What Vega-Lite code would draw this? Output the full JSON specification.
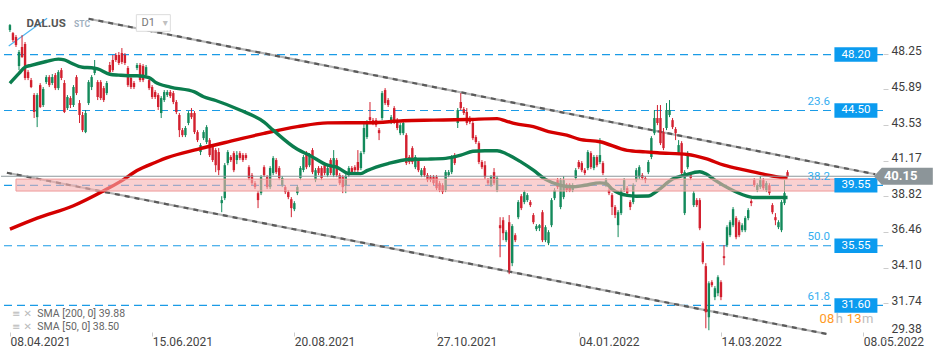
{
"$schema": "https://vega.github.io/schema/vega-lite/v6.json",
"width": 882, "height": 339, "padding": 0, "background": "white",
"config": {"view": {"stroke": null}, "font": "Roboto"},
"data": {"values": [{}]},
"datasets": {
"candles": [
{"i":0,"o":49.82,"h":50.22,"l":49.69,"c":50.15},{"i":1,"o":49.62,"h":49.69,"l":49.03,"c":49.16},{"i":2,"o":49.36,"h":49.49,"l":48.70,"c":48.83},{"i":3,"o":47.44,"h":48.50,"l":47.17,"c":48.37},{"i":4,"o":48.70,"h":49.49,"l":47.97,"c":48.04},{"i":5,"o":48.90,"h":49.03,"l":46.51,"c":46.65},{"i":6,"o":47.04,"h":47.17,"l":46.51,"c":46.65},{"i":7,"o":46.51,"h":46.65,"l":45.98,"c":46.05},{"i":8,"o":45.52,"h":45.65,"l":44.00,"c":44.40},{"i":9,"o":44.06,"h":45.65,"l":43.40,"c":45.52},
{"i":10,"o":46.18,"h":46.31,"l":44.66,"c":44.73},{"i":11,"o":44.86,"h":46.05,"l":44.73,"c":45.92},{"i":12,"o":46.38,"h":46.84,"l":46.25,"c":46.71},{"i":13,"o":46.71,"h":46.84,"l":46.05,"c":46.18},{"i":14,"o":46.32,"h":46.91,"l":46.18,"c":46.71},{"i":15,"o":46.84,"h":46.98,"l":45.85,"c":45.98},{"i":16,"o":45.98,"h":47.17,"l":45.85,"c":47.04},{"i":17,"o":47.17,"h":47.31,"l":46.51,"c":46.65},{"i":18,"o":46.32,"h":46.51,"l":44.33,"c":44.40},{"i":19,"o":44.66,"h":45.52,"l":44.53,"c":45.39},
{"i":20,"o":45.32,"h":45.45,"l":44.66,"c":44.86},{"i":21,"o":44.86,"h":46.18,"l":44.73,"c":46.05},{"i":22,"o":46.71,"h":46.84,"l":45.52,"c":45.65},{"i":23,"o":44.99,"h":45.19,"l":43.67,"c":44.20},{"i":24,"o":44.20,"h":44.40,"l":43.07,"c":43.20},{"i":25,"o":43.07,"h":44.53,"l":43.00,"c":44.33},{"i":26,"o":44.99,"h":46.51,"l":44.86,"c":46.38},{"i":27,"o":46.05,"h":46.84,"l":45.85,"c":46.71},{"i":28,"o":46.98,"h":47.84,"l":46.84,"c":47.31},{"i":29,"o":46.38,"h":46.51,"l":45.19,"c":45.39},
{"i":30,"o":46.38,"h":46.51,"l":45.19,"c":45.32},{"i":31,"o":45.98,"h":46.12,"l":45.06,"c":45.19},{"i":32,"o":45.65,"h":46.45,"l":45.52,"c":46.32},{"i":33,"o":47.51,"h":47.71,"l":46.91,"c":47.04},{"i":34,"o":47.84,"h":48.17,"l":47.04,"c":47.17},{"i":35,"o":48.17,"h":48.30,"l":47.71,"c":47.84},{"i":36,"o":48.17,"h":48.37,"l":47.51,"c":47.64},{"i":37,"o":48.30,"h":48.63,"l":47.57,"c":47.71},{"i":38,"o":48.17,"h":48.30,"l":47.51,"c":47.64},{"i":39,"o":47.31,"h":47.44,"l":46.05,"c":46.18},
{"i":40,"o":46.65,"h":46.78,"l":45.92,"c":46.05},{"i":41,"o":46.32,"h":46.45,"l":45.92,"c":46.05},{"i":42,"o":47.31,"h":47.64,"l":47.17,"c":47.51},{"i":43,"o":47.51,"h":47.64,"l":46.38,"c":46.51},{"i":44,"o":47.44,"h":47.57,"l":46.38,"c":46.51},{"i":45,"o":46.84,"h":47.51,"l":46.71,"c":47.37},{"i":46,"o":46.51,"h":46.65,"l":45.85,"c":45.98},{"i":47,"o":46.05,"h":46.18,"l":45.26,"c":45.39},{"i":48,"o":45.72,"h":45.85,"l":45.26,"c":45.39},{"i":49,"o":45.52,"h":45.65,"l":44.53,"c":44.73},
{"i":50,"o":44.33,"h":45.45,"l":44.00,"c":45.32},{"i":51,"o":45.19,"h":45.85,"l":45.06,"c":45.72},{"i":52,"o":45.52,"h":45.85,"l":45.39,"c":45.72},{"i":53,"o":45.72,"h":45.85,"l":45.32,"c":45.45},{"i":54,"o":45.65,"h":45.79,"l":44.92,"c":45.06},{"i":55,"o":45.06,"h":45.19,"l":44.26,"c":44.40},{"i":56,"o":44.20,"h":44.33,"l":42.74,"c":43.20},{"i":57,"o":43.20,"h":43.34,"l":42.74,"c":42.87},{"i":58,"o":42.87,"h":43.47,"l":42.74,"c":43.34},{"i":59,"o":43.67,"h":44.46,"l":43.53,"c":44.33},
{"i":60,"o":44.33,"h":44.66,"l":43.93,"c":44.06},{"i":61,"o":44.33,"h":44.46,"l":42.94,"c":43.07},{"i":62,"o":43.07,"h":43.20,"l":42.41,"c":42.54},{"i":63,"o":41.75,"h":42.34,"l":41.55,"c":42.21},{"i":64,"o":42.67,"h":43.20,"l":42.54,"c":43.07},{"i":65,"o":42.41,"h":43.53,"l":42.28,"c":43.40},{"i":66,"o":42.54,"h":42.67,"l":41.42,"c":41.55},{"i":67,"o":42.08,"h":42.21,"l":41.09,"c":41.22},{"i":68,"o":41.88,"h":42.01,"l":40.42,"c":40.88},{"i":69,"o":41.75,"h":42.01,"l":40.22,"c":40.55},
{"i":70,"o":38.37,"h":38.83,"l":37.77,"c":38.57},{"i":71,"o":38.70,"h":41.02,"l":38.57,"c":40.88},{"i":72,"o":41.02,"h":41.88,"l":40.88,"c":41.75},{"i":73,"o":41.42,"h":41.55,"l":41.09,"c":41.22},{"i":74,"o":41.68,"h":41.81,"l":40.42,"c":40.55},{"i":75,"o":41.22,"h":41.81,"l":40.95,"c":41.55},{"i":76,"o":41.68,"h":41.81,"l":41.22,"c":41.35},{"i":77,"o":41.55,"h":41.68,"l":41.09,"c":41.22},{"i":78,"o":41.55,"h":41.68,"l":41.22,"c":41.35},{"i":79,"o":40.75,"h":40.88,"l":39.89,"c":40.03},
{"i":80,"o":40.22,"h":40.36,"l":39.56,"c":39.69},{"i":81,"o":39.69,"h":39.83,"l":39.30,"c":39.43},{"i":82,"o":39.03,"h":39.17,"l":38.04,"c":38.57},{"i":83,"o":39.03,"h":40.22,"l":38.90,"c":40.09},{"i":84,"o":40.75,"h":40.88,"l":40.09,"c":40.22},{"i":85,"o":40.09,"h":40.22,"l":39.30,"c":39.43},{"i":86,"o":39.43,"h":40.82,"l":39.30,"c":40.69},{"i":87,"o":40.36,"h":41.48,"l":40.22,"c":41.35},{"i":88,"o":41.22,"h":41.35,"l":40.29,"c":40.42},{"i":89,"o":40.69,"h":40.82,"l":39.89,"c":40.03},
{"i":90,"o":39.56,"h":40.16,"l":39.43,"c":40.03},{"i":91,"o":39.43,"h":39.56,"l":38.97,"c":39.10},{"i":92,"o":39.10,"h":39.23,"l":38.63,"c":38.77},{"i":93,"o":38.63,"h":38.77,"l":37.44,"c":38.04},{"i":94,"o":37.97,"h":38.50,"l":37.84,"c":38.37},{"i":95,"o":39.03,"h":39.56,"l":38.90,"c":39.43},{"i":96,"o":40.03,"h":40.82,"l":39.89,"c":40.69},{"i":97,"o":40.56,"h":41.55,"l":40.42,"c":41.42},{"i":98,"o":41.68,"h":41.81,"l":40.62,"c":40.75},{"i":99,"o":40.88,"h":41.68,"l":40.75,"c":41.55},
{"i":100,"o":41.88,"h":42.01,"l":40.29,"c":40.42},{"i":101,"o":39.89,"h":40.69,"l":39.76,"c":40.55},{"i":102,"o":40.69,"h":40.82,"l":40.22,"c":40.36},{"i":103,"o":40.69,"h":40.82,"l":39.89,"c":40.03},{"i":104,"o":40.88,"h":41.02,"l":40.22,"c":40.36},{"i":105,"o":40.22,"h":40.82,"l":40.09,"c":40.69},{"i":106,"o":41.22,"h":41.35,"l":40.22,"c":40.36},{"i":107,"o":40.22,"h":41.88,"l":40.09,"c":41.35},{"i":108,"o":41.22,"h":41.35,"l":40.09,"c":40.22},{"i":109,"o":40.22,"h":40.36,"l":39.56,"c":39.69},
{"i":110,"o":40.09,"h":40.22,"l":39.03,"c":39.43},{"i":111,"o":39.56,"h":40.29,"l":39.03,"c":40.16},{"i":112,"o":40.22,"h":40.82,"l":40.09,"c":40.69},{"i":113,"o":40.69,"h":40.82,"l":40.29,"c":40.42},{"i":114,"o":40.75,"h":40.88,"l":40.42,"c":40.55},{"i":115,"o":41.09,"h":41.88,"l":40.42,"c":40.55},{"i":116,"o":40.69,"h":41.81,"l":40.55,"c":41.68},{"i":117,"o":41.75,"h":43.73,"l":41.61,"c":43.34},{"i":118,"o":42.74,"h":43.86,"l":42.61,"c":43.73},{"i":119,"o":44.06,"h":45.06,"l":43.73,"c":43.86},
{"i":120,"o":43.86,"h":44.00,"l":43.53,"c":43.67},{"i":121,"o":43.86,"h":44.00,"l":43.40,"c":43.53},{"i":122,"o":43.20,"h":43.34,"l":42.54,"c":43.00},{"i":123,"o":44.00,"h":45.79,"l":43.86,"c":45.65},{"i":124,"o":45.85,"h":45.98,"l":44.86,"c":44.99},{"i":125,"o":45.19,"h":45.32,"l":44.73,"c":44.86},{"i":126,"o":43.73,"h":44.20,"l":43.60,"c":44.06},{"i":127,"o":44.66,"h":44.79,"l":43.60,"c":43.73},{"i":128,"o":43.87,"h":44.00,"l":43.20,"c":43.34},{"i":129,"o":43.00,"h":43.67,"l":42.87,"c":43.53},
{"i":130,"o":43.00,"h":43.80,"l":42.87,"c":43.67},{"i":131,"o":42.87,"h":43.00,"l":40.89,"c":41.02},{"i":132,"o":41.42,"h":41.55,"l":40.95,"c":41.09},{"i":133,"o":42.01,"h":42.14,"l":40.95,"c":41.09},{"i":134,"o":40.75,"h":41.55,"l":40.62,"c":41.42},{"i":135,"o":41.22,"h":41.35,"l":40.42,"c":40.55},{"i":136,"o":40.22,"h":40.69,"l":40.09,"c":40.55},{"i":137,"o":40.69,"h":40.82,"l":40.09,"c":40.22},{"i":138,"o":40.22,"h":40.36,"l":39.76,"c":39.89},{"i":139,"o":40.09,"h":40.22,"l":39.76,"c":39.89},
{"i":140,"o":40.09,"h":40.22,"l":39.56,"c":39.69},{"i":141,"o":40.09,"h":40.22,"l":39.23,"c":39.36},{"i":142,"o":39.69,"h":39.83,"l":39.10,"c":39.23},{"i":143,"o":39.56,"h":39.69,"l":38.97,"c":39.10},{"i":144,"o":39.23,"h":40.56,"l":39.10,"c":40.42},{"i":145,"o":40.22,"h":40.56,"l":40.09,"c":40.42},{"i":146,"o":40.42,"h":41.55,"l":40.29,"c":41.42},{"i":147,"o":41.55,"h":41.68,"l":40.89,"c":41.02},{"i":148,"o":43.67,"h":44.66,"l":43.34,"c":44.53},{"i":149,"o":45.06,"h":45.65,"l":44.53,"c":44.66},
{"i":150,"o":44.59,"h":44.73,"l":44.20,"c":44.33},{"i":151,"o":44.40,"h":44.66,"l":43.53,"c":43.67},{"i":152,"o":43.99,"h":44.13,"l":43.60,"c":43.73},{"i":153,"o":43.67,"h":43.80,"l":42.54,"c":42.67},{"i":154,"o":42.74,"h":42.87,"l":42.28,"c":42.41},{"i":155,"o":42.34,"h":42.47,"l":40.95,"c":41.09},{"i":156,"o":41.09,"h":41.22,"l":40.62,"c":40.75},{"i":157,"o":40.88,"h":41.15,"l":39.96,"c":40.09},{"i":158,"o":39.89,"h":40.03,"l":39.56,"c":39.69},{"i":159,"o":39.56,"h":40.22,"l":39.43,"c":40.09},
{"i":160,"o":40.42,"h":40.69,"l":39.56,"c":39.69},{"i":161,"o":39.23,"h":40.16,"l":39.10,"c":40.03},{"i":162,"o":36.91,"h":37.44,"l":34.79,"c":36.71},{"i":163,"o":37.24,"h":37.44,"l":35.92,"c":36.38},{"i":164,"o":35.92,"h":36.58,"l":35.79,"c":36.45},{"i":165,"o":37.11,"h":37.58,"l":33.67,"c":33.93},{"i":166,"o":34.40,"h":36.98,"l":34.20,"c":36.85},{"i":167,"o":36.25,"h":36.38,"l":35.79,"c":35.92},{"i":168,"o":37.44,"h":38.57,"l":37.31,"c":38.44},{"i":169,"o":38.83,"h":38.97,"l":37.91,"c":38.04},
{"i":170,"o":38.44,"h":39.23,"l":38.30,"c":39.10},{"i":171,"o":38.57,"h":39.03,"l":38.44,"c":38.90},{"i":172,"o":38.44,"h":38.57,"l":38.11,"c":38.24},{"i":173,"o":37.58,"h":37.71,"l":36.98,"c":37.11},{"i":174,"o":36.65,"h":36.98,"l":36.52,"c":36.85},{"i":175,"o":36.72,"h":36.98,"l":36.52,"c":36.91},{"i":176,"o":37.77,"h":37.91,"l":35.79,"c":35.92},{"i":177,"o":35.92,"h":36.91,"l":35.79,"c":36.78},{"i":178,"o":35.72,"h":36.58,"l":35.59,"c":36.45},{"i":179,"o":36.91,"h":38.70,"l":36.78,"c":38.57},
{"i":180,"o":38.70,"h":39.36,"l":38.57,"c":39.23},{"i":181,"o":39.89,"h":40.03,"l":39.30,"c":39.43},{"i":182,"o":38.11,"h":40.03,"l":37.97,"c":39.89},{"i":183,"o":38.77,"h":40.16,"l":38.63,"c":39.89},{"i":184,"o":39.56,"h":39.69,"l":39.10,"c":39.23},{"i":185,"o":39.43,"h":39.69,"l":39.10,"c":39.17},{"i":186,"o":39.23,"h":39.69,"l":39.10,"c":39.56},{"i":187,"o":40.03,"h":40.69,"l":39.89,"c":40.55},{"i":188,"o":41.09,"h":41.22,"l":40.62,"c":40.75},{"i":189,"o":41.02,"h":41.15,"l":40.42,"c":40.55},
{"i":190,"o":40.55,"h":40.69,"l":40.22,"c":40.36},{"i":191,"o":40.69,"h":41.88,"l":40.55,"c":41.75},{"i":192,"o":41.68,"h":41.81,"l":40.62,"c":40.75},{"i":193,"o":40.69,"h":41.55,"l":40.55,"c":41.42},{"i":194,"o":41.42,"h":41.55,"l":40.75,"c":40.88},{"i":195,"o":41.09,"h":42.67,"l":40.95,"c":41.55},{"i":196,"o":41.02,"h":41.15,"l":40.22,"c":40.36},{"i":197,"o":39.56,"h":40.03,"l":39.43,"c":39.89},{"i":198,"o":39.23,"h":39.36,"l":38.90,"c":39.03},{"i":199,"o":38.90,"h":39.03,"l":37.58,"c":38.11},
{"i":200,"o":38.11,"h":38.24,"l":37.38,"c":37.58},{"i":201,"o":36.91,"h":37.91,"l":36.12,"c":37.77},{"i":202,"o":37.71,"h":39.36,"l":37.58,"c":39.23},{"i":203,"o":39.23,"h":40.03,"l":39.10,"c":39.89},{"i":204,"o":39.36,"h":39.50,"l":38.90,"c":39.03},{"i":205,"o":38.44,"h":38.57,"l":37.91,"c":38.11},{"i":206,"o":38.44,"h":39.69,"l":38.30,"c":39.56},{"i":207,"o":39.89,"h":40.69,"l":39.76,"c":40.55},{"i":208,"o":40.09,"h":40.88,"l":39.96,"c":40.75},{"i":209,"o":40.22,"h":40.36,"l":39.89,"c":40.03},
{"i":210,"o":40.03,"h":40.16,"l":39.69,"c":39.89},{"i":211,"o":40.42,"h":41.22,"l":40.29,"c":41.09},{"i":212,"o":41.42,"h":42.80,"l":41.28,"c":42.67},{"i":213,"o":43.00,"h":44.53,"l":42.87,"c":44.00},{"i":214,"o":44.00,"h":44.86,"l":43.53,"c":43.67},{"i":215,"o":44.00,"h":44.86,"l":42.21,"c":42.34},{"i":216,"o":43.07,"h":43.34,"l":41.88,"c":42.01},{"i":217,"o":43.34,"h":44.99,"l":43.20,"c":44.53},{"i":218,"o":44.20,"h":45.19,"l":44.06,"c":44.53},{"i":219,"o":43.86,"h":44.00,"l":43.27,"c":43.40},
{"i":220,"o":43.27,"h":43.40,"l":42.54,"c":43.00},{"i":221,"o":41.68,"h":42.54,"l":41.55,"c":42.21},{"i":222,"o":42.34,"h":42.47,"l":40.22,"c":40.36},{"i":223,"o":37.71,"h":40.55,"l":37.58,"c":40.42},{"i":224,"o":40.75,"h":41.81,"l":40.62,"c":41.68},{"i":225,"o":40.22,"h":40.36,"l":39.89,"c":40.03},{"i":226,"o":38.24,"h":39.17,"l":38.11,"c":39.03},{"i":227,"o":38.57,"h":38.70,"l":38.11,"c":38.24},{"i":228,"o":38.57,"h":38.70,"l":36.58,"c":36.71},{"i":229,"o":35.72,"h":35.85,"l":34.33,"c":34.46},
{"i":230,"o":34.20,"h":34.40,"l":30.09,"c":31.15},{"i":231,"o":30.82,"h":33.20,"l":29.96,"c":33.07},{"i":232,"o":33.14,"h":33.27,"l":32.81,"c":32.94},{"i":233,"o":32.15,"h":32.88,"l":31.95,"c":32.74},{"i":234,"o":32.41,"h":33.60,"l":32.21,"c":33.47},{"i":235,"o":33.14,"h":33.27,"l":31.95,"c":32.15},{"i":236,"o":34.86,"h":35.59,"l":34.26,"c":34.73},{"i":237,"o":35.59,"h":36.91,"l":35.46,"c":36.78},{"i":238,"o":36.25,"h":37.24,"l":36.12,"c":37.11},{"i":239,"o":36.91,"h":38.11,"l":36.78,"c":37.97},
{"i":240,"o":37.38,"h":37.51,"l":35.98,"c":36.12},{"i":241,"o":37.11,"h":37.24,"l":36.12,"c":36.25},{"i":242,"o":36.58,"h":37.04,"l":36.45,"c":36.91},{"i":243,"o":36.58,"h":37.51,"l":36.45,"c":37.38},{"i":244,"o":37.38,"h":38.04,"l":37.24,"c":37.91},{"i":245,"o":38.50,"h":38.63,"l":38.17,"c":38.37},{"i":246,"o":39.89,"h":40.03,"l":39.43,"c":39.56},{"i":247,"o":39.23,"h":39.69,"l":39.10,"c":39.56},{"i":248,"o":39.43,"h":40.16,"l":39.30,"c":39.89},{"i":249,"o":39.89,"h":40.03,"l":39.23,"c":39.36},
{"i":250,"o":39.23,"h":39.83,"l":39.10,"c":39.69},{"i":251,"o":39.56,"h":39.69,"l":38.90,"c":39.03},{"i":252,"o":38.24,"h":38.37,"l":37.64,"c":37.77},{"i":253,"o":37.44,"h":37.71,"l":36.91,"c":37.24},{"i":254,"o":36.78,"h":37.24,"l":36.65,"c":37.11},{"i":255,"o":36.58,"h":38.57,"l":36.45,"c":38.44},{"i":256,"o":38.37,"h":39.89,"l":38.24,"c":39.03},{"i":257,"o":40.42,"h":40.55,"l":40.09,"c":40.15}
],
"sma200": [
{"i":0,"p":36.65},{"i":9,"p":37.38},{"i":21,"p":38.20},{"i":31,"p":39.19},{"i":37,"p":39.86},{"i":42,"p":40.53},{"i":48,"p":41.06},{"i":52,"p":41.38},{"i":62,"p":41.93},{"i":73,"p":42.47},{"i":84,"p":42.99},{"i":95,"p":43.43},{"i":105,"p":43.68},{"i":119,"p":43.69},{"i":130,"p":43.82},{"i":140,"p":43.86},{"i":151,"p":43.90},{"i":161,"p":43.96},{"i":164,"p":43.80},{"i":167,"p":43.63},{"i":173,"p":43.43},{"i":178,"p":43.10},{"i":184,"p":42.87},{"i":188,"p":42.61},{"i":195,"p":42.43},{"i":204,"p":41.86},{"i":210,"p":41.76},{"i":214,"p":41.70},{"i":224,"p":41.59},{"i":230,"p":41.31},{"i":236,"p":40.88},{"i":243,"p":40.55},{"i":249,"p":40.29},{"i":255,"p":40.07},{"i":257,"p":40.05}
],
"sma50": [
{"i":0,"p":46.30},{"i":3,"p":46.95},{"i":5,"p":47.37},{"i":7,"p":47.49},{"i":12,"p":47.74},{"i":16,"p":47.90},{"i":18,"p":47.85},{"i":20,"p":47.66},{"i":24,"p":47.36},{"i":27,"p":47.33},{"i":29,"p":47.25},{"i":33,"p":46.90},{"i":36,"p":46.84},{"i":39,"p":46.80},{"i":42,"p":46.80},{"i":46,"p":46.68},{"i":48,"p":46.38},{"i":53,"p":46.05},{"i":61,"p":45.73},{"i":64,"p":45.41},{"i":68,"p":45.16},{"i":76,"p":44.53},{"i":84,"p":43.73},{"i":87,"p":43.20},{"i":95,"p":41.93},{"i":99,"p":41.54},{"i":105,"p":40.88},{"i":108,"p":40.75},{"i":112,"p":40.33},{"i":116,"p":40.32},{"i":118,"p":40.52},{"i":125,"p":40.99},{"i":132,"p":41.26},{"i":138,"p":41.28},{"i":144,"p":41.33},{"i":149,"p":41.54},{"i":153,"p":41.80},{"i":157,"p":41.84},{"i":161,"p":41.84},{"i":164,"p":41.64},{"i":169,"p":41.08},{"i":173,"p":40.55},{"i":177,"p":39.94},{"i":182,"p":39.55},{"i":186,"p":39.45},{"i":190,"p":39.55},{"i":195,"p":39.71},{"i":197,"p":39.67},{"i":199,"p":39.30},{"i":204,"p":38.88},{"i":207,"p":38.83},{"i":211,"p":38.84},{"i":214,"p":39.19},{"i":219,"p":39.96},{"i":223,"p":40.22},{"i":228,"p":40.45},{"i":230,"p":40.31},{"i":233,"p":39.89},{"i":238,"p":39.30},{"i":242,"p":38.94},{"i":246,"p":38.74},{"i":252,"p":38.74},{"i":257,"p":38.74}
],
"trend": [
{"line":"upper","i":26,"p":50.57},{"line":"upper","i":286,"p":40.28},{"line":"lower","i":-1,"p":40.38},{"line":"lower","i":270,"p":29.71}
],
"tool": [{"i":-0.4,"p":48.77},{"i":12.3,"p":50.6}],
"levels": [
{"v":48.20,"label":"48.20","fib":""},{"v":44.50,"label":"44.50","fib":"23.6"},{"v":39.55,"label":"39.55","fib":"38.2"},{"v":35.55,"label":"35.55","fib":"50.0"},{"v":31.60,"label":"31.60","fib":"61.8"}
],
"zone": [{"from":2,"to":275,"hi":39.96,"lo":39.17}]
},
"layer": [
{"data": {"name": "levels"}, "mark": {"type": "rule", "color": "#1a9be6", "strokeWidth": 1.2, "strokeDash": [8, 5]},
 "encoding": {"y": {"field": "v", "type": "quantitative", "title": null}}},
{"data": {"name": "trend"}, "mark": {"type": "line", "color": "#b4b4b4", "strokeWidth": 2.2},
 "encoding": {"x": {"field": "i", "type": "quantitative", "title": null}, "y": {"field": "p", "type": "quantitative", "title": null}, "detail": {"field": "line"}}},
{"data": {"name": "trend"}, "mark": {"type": "line", "color": "#5a5a5a", "strokeWidth": 2.2, "strokeDash": [5, 5]},
 "encoding": {"x": {"field": "i", "type": "quantitative", "title": null}, "y": {"field": "p", "type": "quantitative", "title": null}, "detail": {"field": "line"}}},
{"data": {"name": "tool"}, "mark": {"type": "line", "color": "#4db6f0", "strokeWidth": 1.2},
 "encoding": {"x": {"field": "i", "type": "quantitative", "title": null}, "y": {"field": "p", "type": "quantitative", "title": null}}},
{"data": {"name": "candles"}, "mark": {"type": "rule", "strokeWidth": 1},
 "encoding": {
  "x": {"field": "i", "type": "quantitative", "title": null,
   "scale": {"domain": [-1.3, 286.9], "nice": false, "zero": false},
   "axis": {"title": null, "values": [0, 47, 94, 141, 188, 235, 282],
    "labelExpr": "datum.value == 0 ? '08.04.2021' : datum.value == 47 ? '15.06.2021' : datum.value == 94 ? '20.08.2021' : datum.value == 141 ? '27.10.2021' : datum.value == 188 ? '04.01.2022' : datum.value == 235 ? '14.03.2022' : '08.05.2022'",
    "labelAlign": "left", "labelFont": "Roboto", "labelFontSize": 12, "labelColor": "#444444",
    "tickColor": "#cccccc", "tickSize": 4, "labelPadding": 0, "domain": false, "grid": false, "offset": -7,
    "labelOverlap": false, "labelBound": false, "labelFlush": false}},
  "y": {"field": "l", "type": "quantitative", "title": null,
   "scale": {"domain": [29.38, 51.81], "nice": false, "zero": false},
   "axis": {"title": null, "orient": "right", "values": [29.38, 31.74, 34.10, 36.46, 38.82, 41.17, 43.53, 45.89, 48.25],
    "format": ".2f", "labelFont": "Roboto", "labelFontSize": 12, "labelColor": "#3d3d3d",
    "tickColor": "#cccccc", "tickSize": 5, "labelPadding": 3, "domain": false, "grid": false,
    "labelOffset": {"condition": {"test": "datum.value < 30", "value": -11}, "value": -3},
    "labelOverlap": false, "labelBound": false, "labelFlush": false}},
  "y2": {"field": "h"},
  "color": {"condition": {"test": "datum.c >= datum.o", "value": "#138a5b"}, "value": "#d3202f"}}},
{"data": {"name": "candles"}, "mark": {"type": "bar", "size": 2.4},
 "encoding": {"x": {"field": "i", "type": "quantitative", "title": null}, "y": {"field": "o", "type": "quantitative", "title": null}, "y2": {"field": "c"},
  "color": {"condition": {"test": "datum.c >= datum.o", "value": "#138a5b"}, "value": "#d3202f"}}},
{"data": {"name": "sma200"}, "mark": {"type": "line", "color": "#d40000", "strokeWidth": 3.4, "interpolate": "monotone"},
 "encoding": {"x": {"field": "i", "type": "quantitative", "title": null}, "y": {"field": "p", "type": "quantitative", "title": null}}},
{"data": {"name": "sma50"}, "mark": {"type": "line", "color": "#0b7d4e", "strokeWidth": 3.4, "interpolate": "monotone"},
 "encoding": {"x": {"field": "i", "type": "quantitative", "title": null}, "y": {"field": "p", "type": "quantitative", "title": null}}},
{"data": {"name": "zone"}, "mark": {"type": "rect", "fill": "#f7b0b0", "fillOpacity": 0.6, "stroke": "#ee9a9a", "strokeWidth": 1},
 "encoding": {"x": {"field": "from", "type": "quantitative", "title": null}, "x2": {"field": "to"}, "y": {"field": "hi", "type": "quantitative", "title": null}, "y2": {"field": "lo"}}},
{"mark": {"type": "rule", "color": "#8c979b", "strokeWidth": 1.2}, "encoding": {"y": {"datum": 40.15}}},
{"data": {"name": "levels"}, "mark": {"type": "tick", "orient": "horizontal", "size": 43, "thickness": 14.5, "color": "#0b9bef", "opacity": 1},
 "encoding": {"x": {"datum": 279.6}, "y": {"field": "v", "type": "quantitative", "title": null}}},
{"data": {"name": "levels"}, "mark": {"type": "text", "color": "white", "font": "Roboto", "fontSize": 11.5, "align": "center", "baseline": "middle"},
 "encoding": {"x": {"datum": 279.6}, "y": {"field": "v", "type": "quantitative", "title": null}, "text": {"field": "label"}}},
{"data": {"name": "levels"}, "mark": {"type": "text", "color": "#35aef0", "font": "Roboto", "fontSize": 11.5, "align": "center", "baseline": "middle", "dy": -8.5},
 "encoding": {"x": {"datum": 267.3}, "y": {"field": "v", "type": "quantitative", "title": null}, "text": {"field": "fib"}}},
{"mark": {"type": "point", "shape": "M-1,0L-0.73,-0.288L1,-0.288L1,0.288L-0.73,0.288Z", "size": 3481, "filled": true, "color": "#8c9599", "opacity": 1, "strokeWidth": 0},
 "encoding": {"x": {"datum": 295.27}, "y": {"datum": 40.15}}},
{"mark": {"type": "text", "text": "40.15", "color": "white", "font": "Roboto", "fontSize": 13, "fontWeight": "bold", "align": "center", "baseline": "middle"},
 "encoding": {"x": {"datum": 294.4}, "y": {"datum": 40.15}}},
{"mark": {"type": "text", "text": "DAL.US", "color": "#555555", "font": "Roboto", "fontSize": 11.5, "fontWeight": "bold", "align": "left", "baseline": "middle"},
 "encoding": {"x": {"datum": 5.45}, "y": {"datum": 50.25}}},
{"mark": {"type": "text", "text": "STC", "color": "#9fb0c0", "font": "Roboto", "fontSize": 8.5, "fontWeight": "bold", "align": "left", "baseline": "middle"},
 "encoding": {"x": {"datum": 21.2}, "y": {"datum": 50.22}}},
{"mark": {"type": "point", "shape": "M-1,-0.49L1,-0.49L1,0.49L-1,0.49Z", "size": 1156, "filled": true, "fill": "white", "stroke": "#dddddd", "strokeWidth": 1, "opacity": 1},
 "encoding": {"x": {"datum": 47.4}, "y": {"datum": 50.29}}},
{"mark": {"type": "text", "text": "D1", "color": "#777777", "font": "Roboto", "fontSize": 11, "align": "left", "baseline": "middle"},
 "encoding": {"x": {"datum": 43.5}, "y": {"datum": 50.27}}},
{"mark": {"type": "text", "text": "▾", "color": "#c0c0c0", "font": "DejaVu Sans", "fontSize": 10, "align": "center", "baseline": "middle"},
 "encoding": {"x": {"datum": 51.3}, "y": {"datum": 50.27}}},
{"mark": {"type": "text", "text": "≡ ✕", "color": "#bbbbbb", "font": "DejaVu Sans", "fontSize": 10, "align": "left", "baseline": "middle"},
 "encoding": {"x": {"datum": 0.7}, "y": {"datum": 31.03}}},
{"mark": {"type": "text", "text": "≡ ✕", "color": "#bbbbbb", "font": "DejaVu Sans", "fontSize": 10, "align": "left", "baseline": "middle"},
 "encoding": {"x": {"datum": 0.7}, "y": {"datum": 30.17}}},
{"mark": {"type": "text", "text": "SMA [200,  0]  39.88", "color": "#666666", "font": "Roboto", "fontSize": 10.5, "align": "left", "baseline": "middle"},
 "encoding": {"x": {"datum": 9.05}, "y": {"datum": 31.03}}},
{"mark": {"type": "text", "text": "SMA [50,  0]  38.50", "color": "#666666", "font": "Roboto", "fontSize": 10.5, "align": "left", "baseline": "middle"},
 "encoding": {"x": {"datum": 9.05}, "y": {"datum": 30.17}}},
{"mark": {"type": "text", "text": "08", "color": "#ff9a1f", "font": "Roboto", "fontSize": 13, "align": "left", "baseline": "middle"},
 "encoding": {"x": {"datum": 267.6}, "y": {"datum": 30.72}}},
{"mark": {"type": "text", "text": "h", "color": "#bdbdbd", "font": "Roboto", "fontSize": 13, "align": "left", "baseline": "middle"},
 "encoding": {"x": {"datum": 272.9}, "y": {"datum": 30.72}}},
{"mark": {"type": "text", "text": "13", "color": "#ff9a1f", "font": "Roboto", "fontSize": 13, "align": "left", "baseline": "middle"},
 "encoding": {"x": {"datum": 276.6}, "y": {"datum": 30.72}}},
{"mark": {"type": "text", "text": "m", "color": "#bdbdbd", "font": "Roboto", "fontSize": 13, "align": "left", "baseline": "middle"},
 "encoding": {"x": {"datum": 281.6}, "y": {"datum": 30.72}}}
]
}
